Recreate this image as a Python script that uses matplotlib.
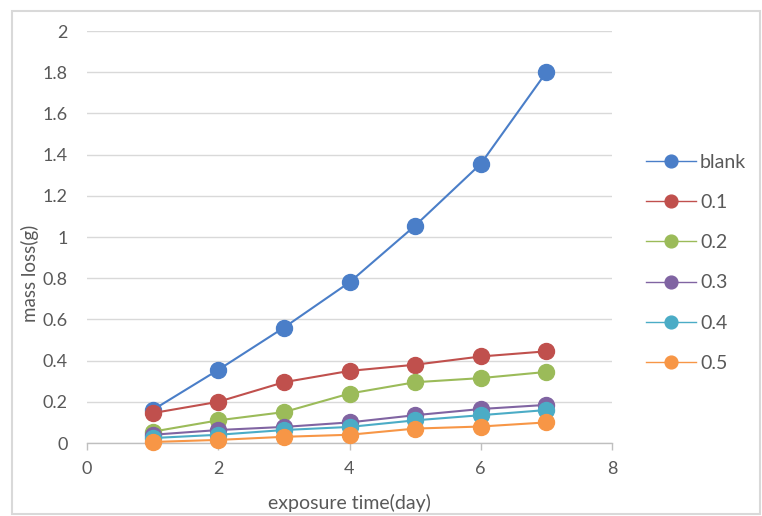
import matplotlib
matplotlib.use("Agg")
import matplotlib.pyplot as plt
from matplotlib.patches import Rectangle

plt.rcParams['font.family'] = ['Lato', 'DejaVu Sans']

days = [1, 2, 3, 4, 5, 6, 7]
series_names = ["blank", "0.1", "0.2", "0.3", "0.4", "0.5"]
blank = [0.16, 0.355, 0.56, 0.78, 1.055, 1.355, 1.80]
c01 = [0.145, 0.20, 0.295, 0.35, 0.38, 0.42, 0.445]
c02 = [0.055, 0.11, 0.15, 0.24, 0.295, 0.315, 0.345]
c03 = [0.04, 0.063, 0.078, 0.10, 0.135, 0.165, 0.185]
c04 = [0.024, 0.04, 0.063, 0.078, 0.11, 0.135, 0.16]
c05 = [0.005, 0.015, 0.03, 0.04, 0.07, 0.08, 0.10]
all_series = [blank, c01, c02, c03, c04, c05]
colors = ["#4a7ec8", "#c0504d", "#9bbb59", "#8064a2", "#4bacc6", "#f79646"]
yticks = [0, 0.2, 0.4, 0.6, 0.8, 1, 1.2, 1.4, 1.6, 1.8, 2]
xticks = [0, 2, 4, 6, 8]

W, H = 762, 516
fig = plt.figure(figsize=(W / 100, H / 100), dpi=100)
fig.patch.set_facecolor("white")

# chart frame
fig.patches.append(Rectangle((12 / W, 1 - 514 / H), 748 / W, 503 / H,
                             transform=fig.transFigure, fill=False,
                             edgecolor="#d9d9d9", linewidth=1.5))

left, right, top, bottom = 87, 612, 31, 443
ax = fig.add_axes([left / W, 1 - bottom / H, (right - left) / W, (bottom - top) / H])
ax.set_xlim(0, 8)
ax.set_ylim(0, 2)

for name, vals, col in zip(series_names, all_series, colors):
    ax.plot(days, vals, color=col, linewidth=1.5, marker="o", markersize=11.5,
            markerfacecolor=col, markeredgecolor=col, label=name, clip_on=False,
            zorder=3)

ax.set_yticks(yticks)
ax.set_yticklabels([f"{v:g}" for v in yticks])
ax.set_xticks(xticks)
ax.grid(axis="y", color="#d9d9d9", linewidth=1)
ax.set_axisbelow(True)
for s in ["top", "right", "left"]:
    ax.spines[s].set_visible(False)
ax.spines["bottom"].set_color("#bfbfbf")
ax.spines["bottom"].set_linewidth(1)
ax.tick_params(axis="y", length=0, pad=14, labelsize=13, labelcolor="#595959")
ax.tick_params(axis="x", length=5, width=1, color="#bfbfbf", pad=8,
               labelsize=13, labelcolor="#595959")

ax.set_xlabel("exposure time(day)", fontsize=14, color="#595959", labelpad=12)
fig.text(30 / W, 1 - 273 / H, "mass loss(g)", rotation=90, ha="center",
         va="center", fontsize=13.5, color="#595959")

leg = ax.legend(loc="upper left", bbox_to_anchor=(628 / W, 1 - 136 / H),
                bbox_transform=fig.transFigure, frameon=False, fontsize=14,
                markerscale=0.8, handlelength=2.6, handletextpad=0.2,
                labelspacing=1.2, labelcolor="#595959")
for h in leg.get_lines():
    h.set_linewidth(1)

fig.savefig("out.png", dpi=100, facecolor="white")
